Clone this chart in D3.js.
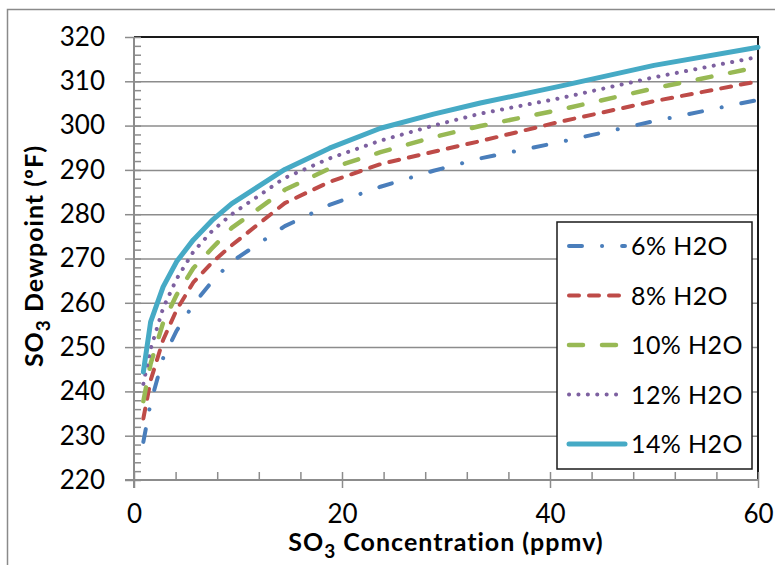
<!DOCTYPE html>
<html>
<head>
<meta charset="utf-8">
<script src="https://cdn.jsdelivr.net/npm/d3@7"></script>
<style>
  body { margin: 0; background: #fff; }
  svg text { font-family: Lato, "Open Sans", sans-serif; fill: #000; }
</style>
</head>
<body>
<div id="main"></div>
<script>
// values
const concentration = [0.9, 1.6, 2.8, 4.1, 5.7, 7.5, 9.4, 14.5, 18.8, 23.7, 28.8, 33.3, 41, 50, 60]
const dew6 = [228.6, 237.4, 247.5, 253.7, 259.6, 264.8, 269.3, 277.3, 282.1, 286.2, 289.8, 292.6, 296.3, 301.0, 305.8]
const dew8 = [233.9, 242.5, 251.6, 258.4, 264.6, 269.1, 273.0, 282.5, 287.3, 291.3, 294.1, 296.5, 300.9, 305.5, 310.0]
const dew10 = [237.8, 246.3, 255.5, 261.8, 267.8, 272.3, 276.9, 285.5, 290.3, 294.0, 297.4, 299.9, 303.6, 308.4, 313.2]
const dew12 = [241.7, 249.6, 258.8, 265.4, 271.5, 276.2, 280.0, 288.2, 292.6, 296.6, 300.0, 302.7, 306.2, 310.9, 315.5]
const dew14 = [244.4, 255.7, 263.6, 269.3, 274.2, 278.6, 282.4, 290.1, 294.9, 299.4, 302.6, 305.1, 308.9, 313.6, 317.7]
const seriesNames = ["6% H2O", "8% H2O", "10% H2O", "12% H2O", "14% H2O"]
const xTicks = [0, 20, 40, 60]
const yTicks = [220, 230, 240, 250, 260, 270, 280, 290, 300, 310, 320]

const styles = [
  {color: "#4a7ebb", width: 4, dash: "13,20,0.1,20"},
  {color: "#be4b48", width: 4, dash: "10,10"},
  {color: "#98b954", width: 4.5, dash: "14,19"},
  {color: "#7d60a0", width: 4, dash: "0.1,9.3"},
  {color: "#46aac5", width: 5, dash: null}
]
const allSeries = [dew6, dew8, dew10, dew12, dew14]

let W = 775, H = 565
let plot = {left: 134, right: 758, top: 37, bottom: 480}

let x = d3.scaleLinear().domain([0, 60]).range([plot.left, plot.right])
let y = d3.scaleLinear().domain([220, 320]).range([plot.bottom, plot.top])

let svg = d3.select("#main").append("svg")
    .attr("width", W)
    .attr("height", H)

// chart area border
svg.append("rect")
    .attr("x", 7.5).attr("y", 9.5)
    .attr("width", 900).attr("height", 900)
    .attr("fill", "#fff")
    .attr("stroke", "#8a8a8a")
    .attr("stroke-width", 1.5)

// gridlines
svg.append("g")
    .attr("transform", "translate(" + plot.left + ",0)")
    .call(d3.axisLeft(y).tickValues(yTicks.slice(1, -1)).tickSize(-(plot.right - plot.left)).tickFormat(""))
    .call(g => g.select(".domain").remove())
    .call(g => g.selectAll("line").attr("stroke", "#8c8c8c").attr("stroke-width", 1.5))

// plot border (top and right)
svg.append("path")
    .attr("d", "M" + plot.left + "," + plot.top + "H" + plot.right + "V" + plot.bottom)
    .attr("fill", "none")
    .attr("stroke", "#1a1a1a")
    .attr("stroke-width", 2)

// y axis: minor ticks inside, major ticks outside
let yMinor = d3.range(220, 321, 2)
svg.append("g")
    .attr("transform", "translate(" + plot.left + ",0)")
    .call(d3.axisLeft(y).tickValues(yMinor).tickSize(-7).tickFormat(""))
    .call(g => g.select(".domain").remove())
    .call(g => g.selectAll("line").attr("stroke", "#8c8c8c").attr("stroke-width", 1.5))

let yAxis = svg.append("g")
    .attr("transform", "translate(" + plot.left + ",0)")
    .call(d3.axisLeft(y).tickValues(yTicks).tickSize(9).tickPadding(20))
yAxis.select(".domain").remove()
yAxis.selectAll("line").attr("stroke", "#8c8c8c").attr("stroke-width", 1.5)
yAxis.selectAll("text").attr("font-size", "26px").attr("font-family", "Lato").attr("fill", "#000")

// x axis
let xMinor = d3.range(0, 61, 4)
svg.append("g")
    .attr("transform", "translate(0," + plot.bottom + ")")
    .call(d3.axisBottom(x).tickValues(xMinor).tickSize(-8).tickFormat(""))
    .call(g => g.select(".domain").remove())
    .call(g => g.selectAll("line").attr("stroke", "#8c8c8c").attr("stroke-width", 1.5))

let xAxis = svg.append("g")
    .attr("transform", "translate(0," + plot.bottom + ")")
    .call(d3.axisBottom(x).tickValues(xTicks).tickSize(8).tickPadding(17))
xAxis.select(".domain").remove()
xAxis.selectAll("line").attr("stroke", "#8c8c8c").attr("stroke-width", 1.5)
xAxis.selectAll("text").attr("font-size", "26px").attr("font-family", "Lato").attr("fill", "#000")

// axis lines
svg.append("line")
    .attr("x1", plot.left).attr("x2", plot.left)
    .attr("y1", plot.top).attr("y2", plot.bottom + 8)
    .attr("stroke", "#8c8c8c").attr("stroke-width", 2)
svg.append("line")
    .attr("x1", plot.left - 9).attr("x2", plot.right)
    .attr("y1", plot.bottom).attr("y2", plot.bottom)
    .attr("stroke", "#8c8c8c").attr("stroke-width", 2)

// series
let line = d3.line()
    .x((d, i) => x(concentration[i]))
    .y(d => y(d))

allSeries.forEach((s, k) => {
  svg.append("path")
      .datum(s)
      .attr("d", line)
      .attr("fill", "none")
      .attr("stroke", styles[k].color)
      .attr("stroke-width", styles[k].width)
      .attr("stroke-linecap", "round")
      .attr("stroke-linejoin", "round")
      .attr("stroke-dasharray", styles[k].dash)
})

// legend
let legend = svg.append("g")
legend.append("rect")
    .attr("x", 557).attr("y", 222)
    .attr("width", 195).attr("height", 247)
    .attr("fill", "#fff")
    .attr("stroke", "#1a1a1a")
    .attr("stroke-width", 1.5)

seriesNames.forEach((name, k) => {
  let cy = 246 + k * 49.5
  legend.append("line")
      .attr("x1", 569).attr("x2", 625)
      .attr("y1", cy).attr("y2", cy)
      .attr("stroke", styles[k].color)
      .attr("stroke-width", styles[k].width)
      .attr("stroke-linecap", "round")
      .attr("stroke-dasharray", styles[k].dash)
  legend.append("text")
      .attr("x", 631).attr("y", cy)
      .attr("dy", "0.36em")
      .attr("font-size", "25px")
      .attr("letter-spacing", "0.4px")
      .text(name)
})

// axis titles
let xTitle = svg.append("text")
    .attr("x", (plot.left + plot.right) / 2)
    .attr("y", 551)
    .attr("text-anchor", "middle")
    .attr("font-size", "25px")
    .attr("font-weight", "bold")
    .attr("letter-spacing", "1px")
xTitle.append("tspan").text("SO")
xTitle.append("tspan").attr("font-size", "19px").attr("dy", 7).text("3")
xTitle.append("tspan").attr("dy", -7).text(" Concentration (ppmv)")

let yTitle = svg.append("text")
    .attr("transform", "translate(43,256) rotate(-90)")
    .attr("text-anchor", "middle")
    .attr("font-size", "25px")
    .attr("font-weight", "bold")
    .attr("letter-spacing", "1px")
yTitle.append("tspan").text("SO")
yTitle.append("tspan").attr("font-size", "19px").attr("dy", 7).text("3")
yTitle.append("tspan").attr("dy", -7).text(" Dewpoint (ºF)")
</script>
</body>
</html>
